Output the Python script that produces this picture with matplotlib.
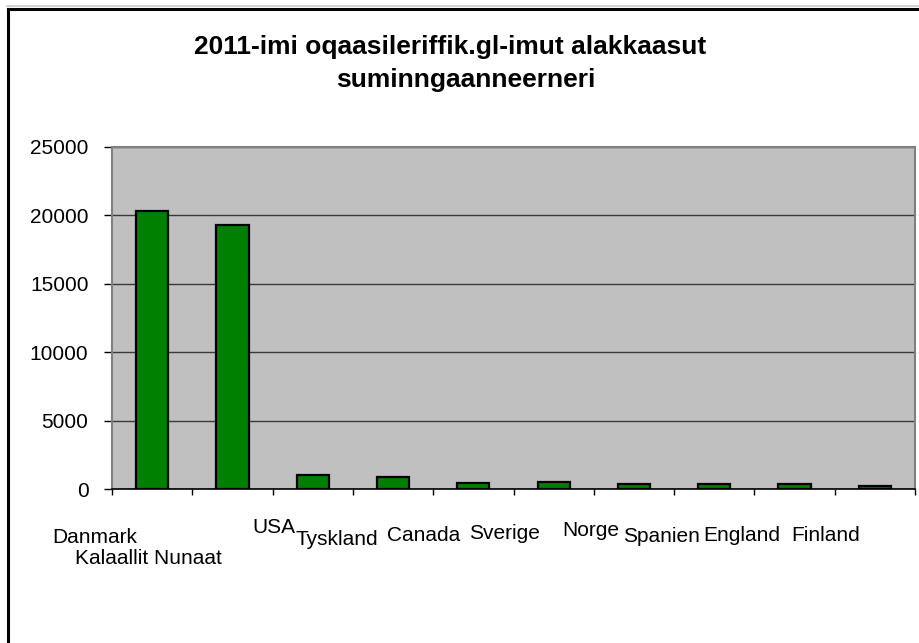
import matplotlib
matplotlib.use("Agg")
import matplotlib.pyplot as plt
from matplotlib.patches import Rectangle
from matplotlib.lines import Line2D
import matplotlib.transforms as mtransforms

plt.rcParams['font.family'] = ['Liberation Sans', 'DejaVu Sans']

categories = ["Danmark", "Kalaallit Nunaat", "USA", "Tyskland", "Canada",
              "Sverige", "Norge", "Spanien", "England", "Finland"]
values = [20330, 19290, 1040, 920, 490, 510, 390, 390, 390, 270]
yticks = [0, 5000, 10000, 15000, 20000, 25000]
title_line1 = "2011-imi oqaasileriffik.gl-imut alakkaasut"
title_line2 = "suminngaanneerneri"

# label placement offsets (pixels) relative to bar centre / axis baseline (style only)
label_dx = [-57.7, -84.5, -38.8, -56, -49.4, -49.2, -43, -52.3, -52.6, -48.9]
label_dy = [54, 75, 44, 56, 51.5, 50, 47, 52.5, 51.5, 51.5]

W, H = 920, 643
fig = plt.figure(figsize=(W / 100, H / 100), dpi=100)
fig.patch.set_facecolor('white')

left, right, top, bottom = 112, 915, 146.7, 489.3
ax = fig.add_axes([left / W, 1 - bottom / H, (right - left) / W, (bottom - top) / H])
ax.set_facecolor('#c0c0c0')

x = list(range(len(categories)))
ax.bar(x, values, width=0.40, color='#008000', edgecolor='black', linewidth=1.6, zorder=3)

ax.set_xlim(-0.5, len(categories) - 0.5)
ax.set_ylim(0, 25000)
ax.set_yticks(yticks)
ax.set_yticklabels([str(v) for v in yticks], fontsize=15)
ax.yaxis.grid(True, color='#3a3a3a', linewidth=1.0, zorder=1)
ax.set_axisbelow(True)

ax.set_xticks([i - 0.5 for i in range(len(categories) + 1)])
ax.set_xticklabels([])
ax.tick_params(axis='x', length=4.5, width=1, color='black', direction='out')
ax.tick_params(axis='y', length=5.5, width=1, color='black', direction='out', pad=11.5)

for side in ['left', 'top', 'right']:
    ax.spines[side].set_color('#808080')
    ax.spines[side].set_linewidth(1.5)
ax.spines['bottom'].set_color('black')
ax.spines['bottom'].set_linewidth(1.2)
ax.spines['bottom'].set_zorder(4)

base = mtransforms.blended_transform_factory(ax.transData, ax.transAxes)
for i, lab in enumerate(categories):
    tr = mtransforms.offset_copy(base, fig=fig, x=label_dx[i], y=-label_dy[i], units='dots')
    ax.text(i, 0, lab, transform=tr, ha='center', va='baseline', fontsize=15,
            clip_on=False)

# Title (two lines)
fig.text(450 / W, 1 - 54 / H, title_line1, ha='center', va='baseline',
         fontsize=19, fontweight='bold')
fig.text(465.5 / W, 1 - 87 / H, title_line2, ha='center', va='baseline',
         fontsize=19, fontweight='bold')

# chart frame (left and top visible, rest out of view)
fig.add_artist(Line2D([7 / W, 1.0], [1 - 6 / H, 1 - 6 / H], color='#c8c8c8', linewidth=1.2))
fig.add_artist(Line2D([8 / W, 8 / W], [0.0, 1 - 9 / H], color='black', linewidth=2.2,
                      solid_capstyle='projecting'))
fig.add_artist(Line2D([8 / W, 1.0], [1 - 9 / H, 1 - 9 / H], color='black', linewidth=2.2,
                      solid_capstyle='projecting'))

fig.savefig('out.png', dpi=100)
